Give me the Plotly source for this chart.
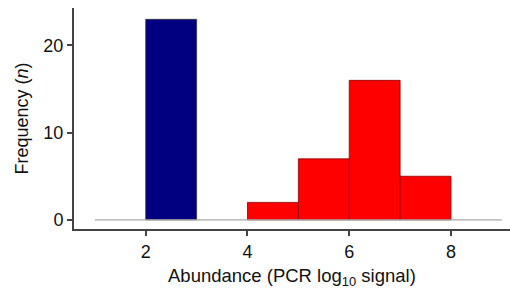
import plotly.graph_objects as go

# Histogram bins (left edges), width 1
blue_bins = [2]
blue_counts = [23]
red_bins = [4, 5, 6, 7]
red_counts = [2, 7, 16, 5]
baseline_x = [1, 9]
baseline_y = [0, 0]
x_ticks = [2, 4, 6, 8]
y_ticks = [0, 10, 20]
x_title = "Abundance (PCR log<sub>10</sub> signal)"
y_title = "Frequency (<i>n</i>)"

fig = go.Figure()
fig.add_trace(go.Scatter(x=baseline_x, y=baseline_y, mode="lines",
                         line=dict(color="#a8a8a8", width=1.2), hoverinfo="skip"))
fig.add_trace(go.Bar(x=[b + 0.5 for b in blue_bins], y=blue_counts, width=1,
                     marker=dict(color="#000080", line=dict(color="#333333", width=0.8))))
fig.add_trace(go.Bar(x=[b + 0.5 for b in red_bins], y=red_counts, width=1,
                     marker=dict(color="#ff0000", line=dict(color="#8a0000", width=0.8))))

fig.update_layout(
    width=510, height=288,
    margin=dict(l=74, r=0, t=8, b=59),
    paper_bgcolor="white", plot_bgcolor="white",
    showlegend=False, barmode="overlay",
    font=dict(family="Liberation Sans, Arial, sans-serif", size=18, color="#111111"),
    xaxis=dict(range=[0.59, 9.16], tickvals=x_ticks, showgrid=False, zeroline=False,
               showline=True, linecolor="#444444", linewidth=2, automargin=False,
               ticks="outside", ticklen=5, tickwidth=1.5, tickcolor="#444444",
               tickfont=dict(size=18)),
    yaxis=dict(range=[-1.05, 24.3], tickvals=y_ticks, showgrid=False, zeroline=False,
               showline=True, linecolor="#444444", linewidth=2, automargin=False,
               ticks="outside", ticklen=5, tickwidth=1.5, tickcolor="#444444",
               tickfont=dict(size=18),
               title=dict(text=y_title, standoff=10, font=dict(size=18))),
)
fig.add_annotation(text=x_title, xref="paper", yref="paper", x=0.5, y=0,
                   xanchor="center", yanchor="top", yshift=-34, showarrow=False,
                   font=dict(size=18.5))
fig.write_html("out.html", config={"displayModeBar": False})
with open("out.html", "r", encoding="utf-8") as f:
    html = f.read()
html = html.replace("<body>", '<body style="margin:0;padding:0;">', 1)
with open("out.html", "w", encoding="utf-8") as f:
    f.write(html)
